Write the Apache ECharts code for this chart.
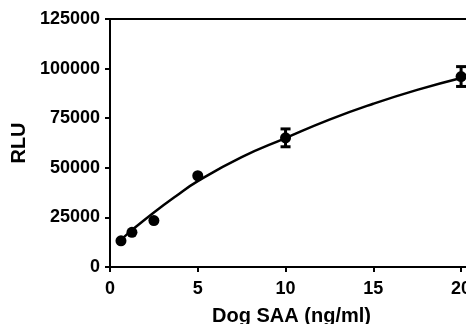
<!DOCTYPE html>
<html>
<head>
<meta charset="utf-8">
<script src="https://cdn.jsdelivr.net/npm/echarts@6/dist/echarts.min.js"></script>
<style>
  html, body { margin: 0; padding: 0; background: #fff; }
  #chart { width: 466px; height: 324px; }
</style>
</head>
<body>
<div id="chart"></div>
<script>
// measured points (mean, error)
var conc = [0.625, 1.25, 2.5, 5, 10, 20]
var rlu = [13200, 17500, 23400, 46000, 65100, 96000]
var rluErr = [0, 0, 0, 0, 4500, 5000]

// fitted curve
var fitX = [0.625, 1.25, 2.5, 3.75, 5, 7.5, 10, 12.5, 15, 17.5, 20]
var fitY = [13700, 18600, 27500, 35700, 43300, 55400, 65000, 74300, 82300, 89300, 95300]

var xTicks = [0, 5, 10, 15, 20]

var font = 'Liberation Sans, Arial, sans-serif'

var chart = echarts.init(document.getElementById('chart'))

var points = conc.map(function (x, i) { return [x, rlu[i]] })
var bars = []
conc.forEach(function (x, i) {
    if (rluErr[i] > 0) bars.push([x, rlu[i] - rluErr[i], rlu[i] + rluErr[i]])
})
var fit = fitX.map(function (x, i) { return [x, fitY[i]] })

chart.setOption({
    animation: false,
    grid: { left: 110, right: 0, top: 19, bottom: 57, outerBoundsMode: 'none' },
    xAxis: [{
        type: 'value',
        min: 0,
        max: 20.28,
        name: 'Dog SAA (ng/ml)',
        nameLocation: 'middle',
        nameGap: 39,
        nameTextStyle: { fontFamily: font, fontWeight: 'bold', fontSize: 20, color: '#000', padding: [0, 0, 0, 7] },
        splitLine: { show: false },
        axisLine: { lineStyle: { color: '#000', width: 2 } },
        axisTick: { length: 5, lineStyle: { color: '#000', width: 2 }, customValues: xTicks },
        axisLabel: {
            customValues: xTicks,
            margin: 13,
            fontFamily: font, fontWeight: 'bold', fontSize: 18, color: '#000'
        }
    }, {
        type: 'value',
        position: 'top',
        min: 0,
        max: 20.28,
        splitLine: { show: false },
        axisLine: { lineStyle: { color: '#000', width: 2 } },
        axisTick: { show: false },
        axisLabel: { show: false }
    }],
    yAxis: {
        type: 'value',
        min: 0,
        max: 125000,
        interval: 25000,
        name: 'RLU',
        nameLocation: 'middle',
        nameRotate: 90,
        nameGap: 78,
        nameTextStyle: { fontFamily: font, fontWeight: 'bold', fontSize: 20, color: '#000' },
        splitLine: { show: false },
        axisLine: { lineStyle: { color: '#000', width: 2 } },
        axisTick: { length: 5, lineStyle: { color: '#000', width: 2 } },
        axisLabel: {
            margin: 10,
            fontFamily: font, fontWeight: 'bold', fontSize: 18, color: '#000',
            formatter: function (v) { return String(v) }
        }
    },
    series: [{
        type: 'line',
        data: fit,
        smooth: true,
        symbol: 'none',
        lineStyle: { color: '#000', width: 2.5 },
        z: 2
    }, {
        type: 'custom',
        data: bars,
        z: 3,
        renderItem: function (params, api) {
            var x = api.value(0)
            var lo = api.coord([x, api.value(1)])
            var hi = api.coord([x, api.value(2)])
            var w = 5
            var st = { stroke: '#000', lineWidth: 3 }
            return {
                type: 'group',
                children: [
                    { type: 'line', shape: { x1: lo[0], y1: lo[1], x2: hi[0], y2: hi[1] }, style: st },
                    { type: 'line', shape: { x1: lo[0] - w, y1: lo[1], x2: lo[0] + w, y2: lo[1] }, style: st },
                    { type: 'line', shape: { x1: hi[0] - w, y1: hi[1], x2: hi[0] + w, y2: hi[1] }, style: st }
                ]
            }
        }
    }, {
        type: 'scatter',
        data: points,
        symbol: 'circle',
        symbolSize: 11,
        itemStyle: { color: '#000', opacity: 1 },
        z: 4
    }]
})
</script>
</body>
</html>
